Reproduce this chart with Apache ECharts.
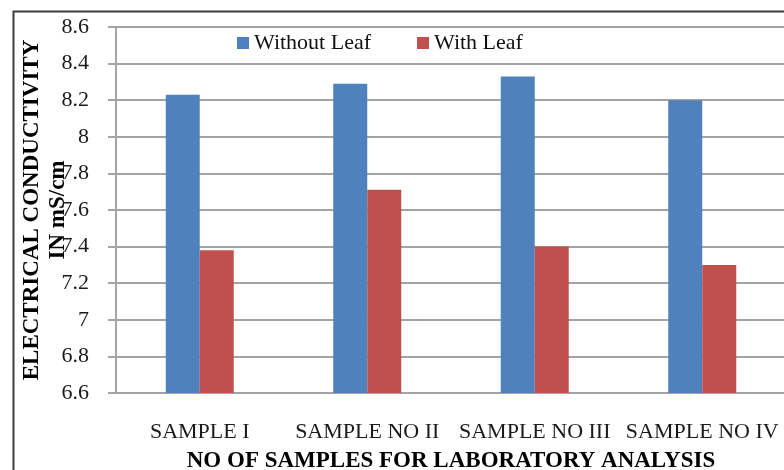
<!DOCTYPE html>
<html><head><meta charset="utf-8">
<script src="https://cdn.jsdelivr.net/npm/echarts@6/dist/echarts.min.js"></script>
<style>html,body{margin:0;padding:0;background:#fff}#c{width:784px;height:470px}</style>
</head><body><div id="c"></div>
<script>
var categories = ['SAMPLE I', 'SAMPLE NO II', 'SAMPLE NO III', 'SAMPLE NO IV'];
var withoutLeaf = [8.23, 8.29, 8.33, 8.20];
var withLeaf = [7.38, 7.71, 7.40, 7.30];
var seriesNames = ['Without Leaf', 'With Leaf'];
var yTitle = 'ELECTRICAL CONDUCTIVITY\nIN mS/cm';
var xTitle = 'NO OF SAMPLES FOR LABORATORY ANALYSIS';

var FONT = '"Liberation Serif", "Times New Roman", serif';
var GRID = '#a4a4a4';
var chart = echarts.init(document.getElementById('c'), null, {renderer: 'canvas'});
chart.setOption({
  animation: false,
  backgroundColor: '#fff',
  graphic: [{
    type: 'rect', left: 11, top: 9, z: 100, silent: true,
    shape: {x: 0, y: 0, width: 800, height: 500},
    style: {fill: 'none', stroke: '#3c3c3c', lineWidth: 2}
  }],
  legend: {
    left: 232, top: 27, itemWidth: 12, itemHeight: 12, itemGap: 46,
    icon: 'rect',
    textStyle: {fontFamily: FONT, fontSize: 22, color: '#111'},
    data: seriesNames
  },
  grid: {left: 116, top: 27, width: 670, height: 366, containLabel: false, outerBoundsMode: 'none'},
  xAxis: {
    type: 'category', data: categories,
    axisLine: {lineStyle: {color: GRID, width: 2}},
    axisTick: {show: false},
    axisLabel: {interval: 0, margin: 28, fontFamily: FONT, fontSize: 22, color: '#1a1a1a'},
    name: xTitle, nameLocation: 'middle', nameGap: 57, nameMoveOverlap: false,
    nameTextStyle: {fontFamily: FONT, fontSize: 23, fontWeight: 'bold', color: '#000'}
  },
  yAxis: {
    type: 'value', min: 6.6, max: 8.6, interval: 0.2,
    axisLine: {show: true, lineStyle: {color: GRID, width: 2}},
    axisTick: {show: true, length: 8, lineStyle: {color: GRID, width: 2}},
    splitLine: {lineStyle: {color: GRID, width: 2}},
    axisLabel: {margin: 27, fontFamily: FONT, fontSize: 22, color: '#1a1a1a',
      formatter: function (v) { return String(Math.round(v * 10) / 10); }},
    name: yTitle, nameLocation: 'middle', nameRotate: 90, nameGap: 45, nameMoveOverlap: false,
    nameTextStyle: {fontFamily: FONT, fontSize: 23, fontWeight: 'bold', color: '#000', lineHeight: 26}
  },
  series: [
    {name: seriesNames[0], type: 'bar', data: withoutLeaf, barWidth: 34, barGap: '0%',
     itemStyle: {color: '#4F81BD'}},
    {name: seriesNames[1], type: 'bar', data: withLeaf, barWidth: 34, barGap: '0%',
     itemStyle: {color: '#C0504D'}}
  ]
});
</script></body></html>
